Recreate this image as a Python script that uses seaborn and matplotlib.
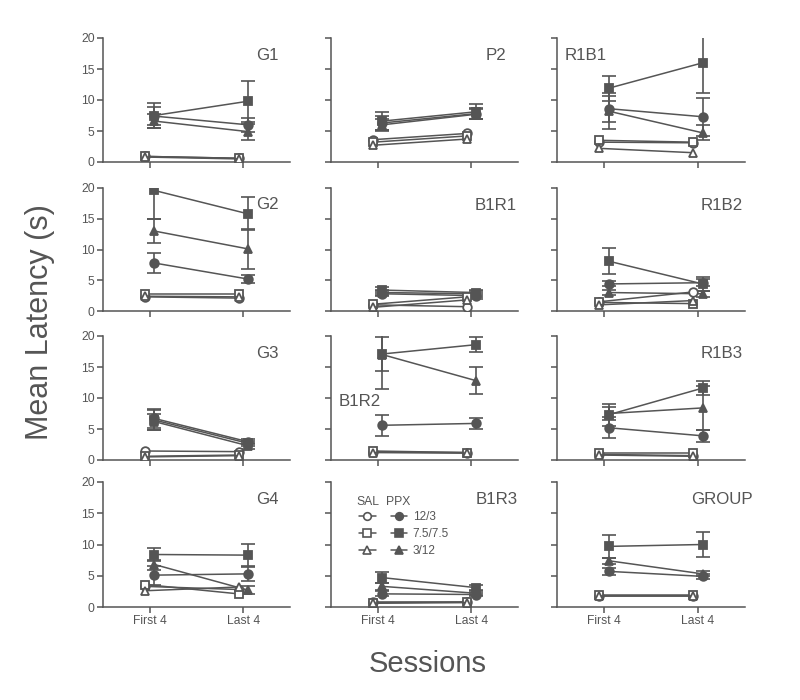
import matplotlib
matplotlib.use("Agg")
import matplotlib.pyplot as plt
import numpy as np
import pandas as pd
import seaborn as sns
from matplotlib.lines import Line2D

# ---------------- data ----------------
panels = ["G1", "P2", "R1B1", "G2", "B1R1", "R1B2",
          "G3", "B1R2", "R1B3", "G4", "B1R3", "GROUP"]
sessions = ["First 4", "Last 4"]
doses = ["12/3", "7.5/7.5", "3/12"]

# SAL (open markers) means [First 4, Last 4] per panel
sal_12_3 = [[0.9, 0.6], [3.6, 4.6], [3.2, 3.1], [2.3, 2.1], [1.0, 0.7], [1.5, 3.1],
            [1.45, 1.35], [1.3, 1.2], [0.9, 0.7], [3.3, 2.8], [0.75, 0.75], [1.8, 1.8]]
sal_75_75 = [[0.9, 0.6], [3.2, 4.2], [3.5, 3.2], [2.8, 2.8], [1.1, 2.3], [1.4, 1.2],
             [0.6, 0.8], [1.45, 1.2], [1.2, 1.2], [3.6, 2.1], [0.7, 0.8], [1.85, 1.85]]
sal_3_12 = [[0.8, 0.5], [2.7, 3.7], [2.2, 1.5], [2.4, 2.3], [0.6, 1.8], [1.0, 1.7],
            [0.5, 0.7], [1.2, 1.1], [0.8, 0.6], [2.6, 3.2], [0.6, 0.7], [1.7, 1.7]]

# PPX (filled markers) means and SEM
ppx_12_3 = [[7.4, 6.0], [6.3, 7.8], [8.6, 7.3], [7.8, 5.2], [2.8, 2.5], [4.4, 4.6],
            [6.7, 2.95], [5.6, 5.9], [5.2, 3.9], [5.1, 5.3], [2.1, 2.0], [5.7, 4.9]]
ppx_12_3_err = [[1.5, 1.1], [1.2, 0.9], [2.1, 3.1], [1.6, 0.7], [0.4, 0.5], [0.4, 0.6],
                [1.5, 0.4], [1.7, 0.9], [1.7, 1.0], [1.5, 1.1], [0.4, 0.3], [0.5, 0.4]]
ppx_75_75 = [[7.5, 9.8], [6.6, 8.1], [11.9, 16.0], [19.6, 15.8], [3.4, 3.0], [8.1, 4.4],
             [6.45, 2.7], [17.1, 18.6], [7.3, 11.6], [8.4, 8.3], [4.7, 3.1], [9.7, 10.0]]
ppx_75_75_err = [[2.0, 3.3], [1.5, 1.2], [2.0, 4.9], [4.6, 2.7], [0.5, 0.4], [2.1, 1.2],
                 [1.6, 0.4], [2.7, 1.2], [1.8, 1.1], [1.1, 1.8], [0.9, 0.4], [1.8, 2.0]]
ppx_3_12 = [[6.6, 4.9], [6.0, 7.7], [8.2, 4.7], [13.0, 10.1], [3.0, 2.8], [3.0, 2.8],
            [6.2, 2.3], [17.0, 12.8], [7.5, 8.4], [6.8, 2.7], [3.3, 2.2], [7.4, 5.3]]
ppx_3_12_err = [[1.1, 1.3], [1.0, 0.8], [2.9, 1.2], [2.0, 3.2], [0.4, 0.5], [0.4, 0.5],
                [1.3, 0.5], [5.5, 2.2], [1.0, 3.6], [0.8, 0.6], [0.5, 0.3], [0.5, 0.4]]

# ---------------- build long table ----------------
markers = {"12/3": "o", "7.5/7.5": "s", "3/12": "^"}
sal_sets = {"12/3": sal_12_3, "7.5/7.5": sal_75_75, "3/12": sal_3_12}
ppx_sets = {"12/3": (ppx_12_3, ppx_12_3_err),
            "7.5/7.5": (ppx_75_75, ppx_75_75_err),
            "3/12": (ppx_3_12, ppx_3_12_err)}
rows = []
for pi, p in enumerate(panels):
    for d in doses:
        for si, s in enumerate(sessions):
            rows.append(dict(panel=p, treat="SAL", dose=d, sidx=si,
                             mean=sal_sets[d][pi][si], sem=0.0))
            m, e = ppx_sets[d]
            rows.append(dict(panel=p, treat="PPX", dose=d, sidx=si,
                             mean=m[pi][si], sem=e[pi][si]))
df = pd.DataFrame(rows)
offset = {"SAL": -0.05, "PPX": 0.05}
df["x"] = df["sidx"] + df["treat"].map(offset)

# ---------------- style ----------------
sns.set_theme(style="white")
plt.rcParams["font.family"] = ["Liberation Sans", "DejaVu Sans"]
GREY = "#555555"
TXT = "#555555"

fig = plt.figure(figsize=(8, 7), dpi=100)
fig.patch.set_facecolor("white")

col_px = [(103, 187), (331, 187), (557, 188)]
row_px = [(38, 162), (188, 311), (336, 460), (482, 607)]

title_pos = {
    "G1": (0.94, 0.92, "right"), "P2": (0.94, 0.92, "right"), "R1B1": (0.04, 0.92, "left"),
    "G2": (0.94, 0.93, "right"), "B1R1": (0.995, 0.92, "right"), "R1B2": (0.99, 0.92, "right"),
    "G3": (0.94, 0.92, "right"), "B1R2": (0.04, 0.53, "left"), "R1B3": (0.99, 0.92, "right"),
    "G4": (0.94, 0.92, "right"), "B1R3": (1.0, 0.92, "right"), "GROUP": (1.04, 0.92, "right"),
}

for pi, p in enumerate(panels):
    r, c = divmod(pi, 3)
    l, w = col_px[c]
    t, b = row_px[r]
    ax = fig.add_axes([l / 800, 1 - b / 700, w / 800, (b - t) / 700])
    sub = df[df["panel"] == p]
    for treat in ["PPX", "SAL"]:
        for d in doses:
            s = sub[(sub["treat"] == treat) & (sub["dose"] == d)]
            z = 3 if treat == "PPX" else 4
            if treat == "PPX":
                ax.errorbar(s["x"], s["mean"], yerr=s["sem"], fmt="none",
                            ecolor=GREY, elinewidth=1.2, capsize=4.8, capthick=1.2,
                            zorder=z - 0.5)
            sns.lineplot(data=s, x="x", y="mean", ax=ax, color=GREY,
                         marker=markers[d], markersize=6.2 if d != "7.5/7.5" else 5.7,
                         markerfacecolor=GREY if treat == "PPX" else "white",
                         markeredgecolor=GREY, markeredgewidth=1.3,
                         linewidth=1.1, errorbar=None, legend=False, zorder=z)
    ax.set_xlim(-0.5, 1.5)
    ax.set_ylim(0, 20)
    ax.set_xticks([0, 1])
    ax.set_yticks([0, 5, 10, 15, 20])
    ax.set_xlabel("")
    ax.set_ylabel("")
    for sp in ["top", "right"]:
        ax.spines[sp].set_visible(False)
    for sp in ["left", "bottom"]:
        ax.spines[sp].set_color(GREY)
        ax.spines[sp].set_linewidth(1.1)
    ax.tick_params(axis="both", which="both", direction="out", length=4, width=1.1,
                   color=GREY, labelcolor=TXT, labelsize=8.7, pad=2,
                   left=True, bottom=True)
    if c != 0:
        ax.set_yticklabels([])
    if r != 3:
        ax.set_xticklabels([])
    else:
        ax.set_xticklabels(sessions)
    ax.set_facecolor("none")
    tx, ty, ha = title_pos[p]
    ax.text(tx, ty, p, transform=ax.transAxes, ha=ha, va="top",
            fontsize=12.2, color=TXT)

    if p == "B1R3":
        handles = []
        labels = []
        for treat in ["SAL", "PPX"]:
            for d in doses:
                handles.append(Line2D([], [], color=GREY, marker=markers[d],
                                      markersize=5.5,
                                      markerfacecolor=GREY if treat == "PPX" else "white",
                                      markeredgecolor=GREY, markeredgewidth=1.2,
                                      linewidth=1.1))
                labels.append("" if treat == "SAL" else d)
        leg = ax.legend(handles, labels, ncol=2, frameon=False, loc="upper left",
                        bbox_to_anchor=(0.15, 0.765), borderpad=0, borderaxespad=0,
                        handlelength=1.4, handletextpad=0.45, columnspacing=0.85,
                        labelspacing=0.42, fontsize=8.5)
        for txt in leg.get_texts():
            txt.set_color(TXT)
        ax.text(0.195, 0.84, "SAL", transform=ax.transAxes, ha="center",
                va="center", fontsize=8.7, color=TXT)
        ax.text(0.36, 0.84, "PPX", transform=ax.transAxes, ha="center",
                va="center", fontsize=8.7, color=TXT)

fig.text(0.05, 0.54, "Mean Latency (s)", rotation=90, ha="center", va="center",
         fontsize=22, color=TXT)
fig.text(0.534, 0.052, "Sessions", ha="center", va="center",
         fontsize=21, color=TXT)

fig.savefig("out.png", dpi=100, facecolor="white")
